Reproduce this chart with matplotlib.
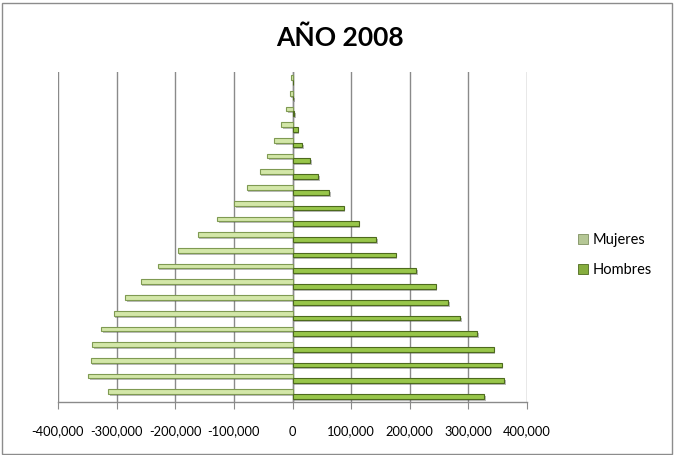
import matplotlib
matplotlib.use("Agg")
import matplotlib.pyplot as plt
import matplotlib.patheffects as pe
from matplotlib import font_manager
from matplotlib.patches import Rectangle
from matplotlib.ticker import FuncFormatter
import numpy as np

# Age groups, youngest at the bottom
age_groups = ["0-4", "5-9", "10-14", "15-19", "20-24", "25-29", "30-34",
              "35-39", "40-44", "45-49", "50-54", "55-59", "60-64", "65-69",
              "70-74", "75-79", "80-84", "85-89", "90-94", "95-99", "100+"]

# Women are plotted on the negative side
mujeres = [-314000, -348000, -344000, -342000, -326000, -305000, -285000,
           -259000, -230000, -196000, -162000, -128000, -100000, -78000,
           -56000, -43000, -31000, -19000, -11000, -5000, -2000]

hombres = [327000, 361000, 357000, 343000, 315000, 286000, 266000,
           244000, 211000, 176000, 143000, 113000, 87000, 63000,
           44000, 30000, 16500, 9000, 3000, 1200, 500]

x_ticks = [-400000, -300000, -200000, -100000, 0, 100000, 200000, 300000, 400000]


def pick_font(names, fallback="Lato"):
    for n in names:
        try:
            font_manager.findfont(n, fallback_to_default=False)
            return n
        except Exception:
            pass
    return fallback


tick_font = pick_font(["Liberation Sans Narrow"])
tick_size = 10 if tick_font != "Lato" else 9.3

W, H = 676, 455
fig = plt.figure(figsize=(W / 100, H / 100), dpi=100)
fig.patch.set_facecolor("white")

# Outer chart border
fig.patches.append(Rectangle((1.5 / W, 1.5 / H), (W - 6) / W, (H - 4) / H,
                             transform=fig.transFigure, fill=False,
                             edgecolor="#8c8c8c", linewidth=1.0))

left, right = 58 / W, 527 / W
top, bottom = 72 / H, 402 / H
ax = fig.add_axes([left, 1 - bottom, right - left, bottom - top])

y = np.arange(len(age_groups))
bw = 0.3
shadow = [pe.SimplePatchShadow(offset=(1.2, -1.4), alpha=0.4, shadow_rgbFace="#555555"),
          pe.Normal()]

ax.barh(y + bw / 2, mujeres, height=bw, color="#d3e7a8", edgecolor="#7f9a52",
        linewidth=0.8, label="Mujeres", zorder=3, path_effects=shadow)
ax.barh(y - bw / 2, hombres, height=bw, color="#98c64a", edgecolor="#4d6a1d",
        linewidth=0.8, label="Hombres", zorder=3, path_effects=shadow)

ax.set_xlim(-400000, 400000)
ax.set_ylim(-0.5, len(age_groups) - 0.5)
ax.set_xticks(x_ticks)
ax.xaxis.set_major_formatter(FuncFormatter(lambda v, p: f"{int(v):,}"))
ax.set_yticks([])
ax.grid(axis="x", color="#8a8a8a", linewidth=1.0, zorder=0)
ax.axvline(0, color="#8a8a8a", linewidth=1.0, zorder=1)

for s in ["top", "right", "left"]:
    ax.spines[s].set_visible(False)
ax.spines["bottom"].set_color("#8a8a8a")
ax.spines["bottom"].set_linewidth(1.0)
ax.tick_params(axis="x", direction="out", length=5, color="#8a8a8a",
               labelsize=tick_size, pad=12, labelcolor="black")
for lbl in ax.get_xticklabels():
    lbl.set_fontfamily(tick_font)

fig.text(340 / W, 1 - 38 / H, "AÑO 2008", ha="center", va="center",
         fontsize=19, fontweight="bold", family="Lato")

# Legend
handles = [Rectangle((0, 0), 1, 1, facecolor="#b5c795", edgecolor="#7f9060", linewidth=0.6),
           Rectangle((0, 0), 1, 1, facecolor="#86ad3e", edgecolor="#4d6a1d", linewidth=0.6)]
fig.legend(handles, ["Mujeres", "Hombres"], loc="center left",
           bbox_to_anchor=(565 / W, 1 - 255 / H), frameon=False,
           prop={"family": "Lato", "size": 10.5}, handlelength=0.7,
           handleheight=0.7, handletextpad=0.3, labelspacing=1.1)

fig.savefig("out.png", dpi=100, facecolor="white")
